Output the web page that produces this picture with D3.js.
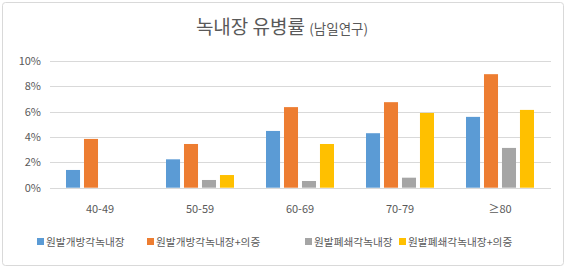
<!DOCTYPE html>
<html><head><meta charset="utf-8">
<script src="https://cdn.jsdelivr.net/npm/d3@7"></script>
<style>body{margin:0;background:#fff;}svg{display:block;}</style>
</head><body>
<script>
const categories = ["40-49","50-59","60-69","70-79","≥80"];
const seriesNames = ["원발개방각녹내장","원발개방각녹내장+의증","원발폐쇄각녹내장","원발폐쇄각녹내장+의증"];
const seriesColors = ["#5B9BD5","#ED7D31","#A5A5A5","#FFC000"];
const openAngle = [1.4, 2.24, 4.48, 4.3, 5.59];
const openAngleSusp = [3.85, 3.45, 6.36, 6.75, 8.96];
const closedAngle = [0, 0.61, 0.53, 0.79, 3.14];
const closedAngleSusp = [0, 1.0, 3.45, 5.9, 6.14];
const yTicks = [0, 2, 4, 6, 8, 10];
const seriesValues = [openAngle, openAngleSusp, closedAngle, closedAngleSusp];

const W = 567, H = 271;
const svg = d3.select("body").append("svg").attr("width", W).attr("height", H);
const font = "'Malgun Gothic','Noto Sans CJK KR','Noto Sans',sans-serif";

svg.append("rect").attr("x", 2.5).attr("y", 2.5).attr("width", 561).attr("height", 263)
  .attr("rx", 3).attr("fill", "#fff").attr("stroke", "#d9d9d9");

const x0 = d3.scaleBand().domain(categories).range([50, 550]).paddingInner(0.32).paddingOuter(0.16);
const x1 = d3.scaleBand().domain(d3.range(4)).range([0, x0.bandwidth()]).paddingInner(0.22);
const y = d3.scaleLinear().domain([0, 10]).range([187.7, 61]);

// gridlines
svg.append("g").selectAll("line").data(yTicks).join("line")
  .attr("x1", 50).attr("x2", 551)
  .attr("y1", d => Math.round(y(d)) + 0.5).attr("y2", d => Math.round(y(d)) + 0.5)
  .attr("stroke", "#d9d9d9").attr("stroke-width", 1);

// y axis labels
const yAxis = d3.axisLeft(y).tickValues(yTicks).tickSize(0).tickPadding(0).tickFormat(d => d + "%");
const yg = svg.append("g").attr("transform", "translate(41,0)").call(yAxis);
yg.select(".domain").remove();
yg.selectAll("text").attr("fill", "#595959").attr("font-size", 11).attr("font-family", font);

// x axis labels
const xAxis = d3.axisBottom(x0).tickSize(0).tickPadding(0);
const xg = svg.append("g").attr("transform", "translate(0,205)").call(xAxis);
xg.select(".domain").remove();
xg.selectAll("text").attr("fill", "#595959").attr("font-size", 11).attr("font-family", font);

// bars
const groups = svg.append("g").selectAll("g").data(categories).join("g")
  .attr("transform", d => `translate(${x0(d)},0)`);
groups.selectAll("rect").data((d, i) => seriesValues.map((s, k) => ({k, v: s[i]}))).join("rect")
  .attr("x", d => x1(d.k)).attr("width", x1.bandwidth())
  .attr("y", d => y(d.v)).attr("height", d => y(0) - y(d.v))
  .attr("fill", d => seriesColors[d.k]);

// title
const title = svg.append("text").attr("x", 282).attr("y", 34).attr("text-anchor", "middle")
  .attr("font-family", font).attr("fill", "#595959");
title.append("tspan").attr("font-size", 19).text("녹내장 유병률 ");
title.append("tspan").attr("font-size", 13.5).text("(남일연구)");

// legend
const legend = svg.append("g").attr("font-family", font).attr("font-size", 10.7);
const legendX = [37, 147, 305, 399];
seriesNames.forEach((n, i) => {
  const g = legend.append("g").attr("transform", `translate(${legendX[i]},242)`);
  g.append("rect").attr("x", 0).attr("y", -4).attr("width", 7).attr("height", 7).attr("fill", seriesColors[i]);
  g.append("text").attr("x", 9).attr("y", 0).attr("dy", "0.35em").attr("fill", "#595959").text(n);
});
</script>
</body></html>
